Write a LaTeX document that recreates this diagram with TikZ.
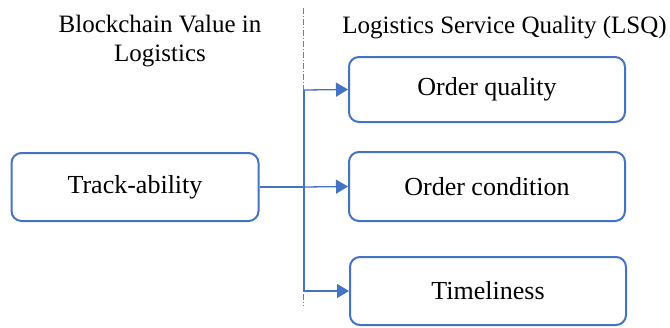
\documentclass[tikz,border=0pt]{standalone}
\usepackage{fontspec}
\setmainfont{Liberation Serif}
\usetikzlibrary{arrows.meta}
\definecolor{boxblue}{HTML}{4472C4}
\definecolor{sepblue}{HTML}{5B80C8}
\begin{document}
\begin{tikzpicture}[x=1pt,y=1pt,
  box/.style={draw=boxblue,line width=2pt,rounded corners=10pt,fill=white,
    minimum width=#1,inner sep=0pt,font=\fontsize{26}{30}\selectfont},
  box/.default=276pt,
  title/.style={align=center,inner sep=0pt,font=\fontsize{25}{29}\selectfont},
  link/.style={draw=boxblue,line width=1.3pt},
  arr/.style={link,-{Triangle[length=12pt,width=14pt]}}]
\useasboundingbox (0,0) rectangle (670,-327);
% column headings
\node[title,anchor=base] (h1) at (160,-32) {Blockchain Value in};
\node[title,anchor=base] (h1b) at (160,-61) {Logistics};
\node[title,anchor=base] (h2) at (504.5,-33) {Logistics Service Quality (LSQ)};
% dash-dot separator
\coordinate (st) at (303,-8);
\coordinate (sb) at (303,-306);
\draw[sepblue,line width=0.8pt,dash pattern=on 6pt off 2pt on 1pt off 2pt] (st) -- (sb);
% boxes
\node[box=247pt,minimum height=68pt] (ta) at (135,-187) {Track-ability};
\node[box,minimum height=65pt] (oq) at (487,-89.5) {Order quality};
\node[box,minimum height=69pt] (oc) at (487,-186.5) {Order condition};
\node[box,minimum height=68pt] (tl) at (488,-291) {Timeliness};
% connectors
\coordinate (j) at (304,-187);
\coordinate (jt) at (304,-90);
\coordinate (jb) at (304,-291);
\draw[link] (ta.east) -- (j);
\draw[link] (jt) -- (jb);
\draw[arr] (jt) -- (oq.west);
\draw[arr] (j) -- (oc.west);
\draw[arr] (jb) -- (tl.west);
\end{tikzpicture}
\end{document}
